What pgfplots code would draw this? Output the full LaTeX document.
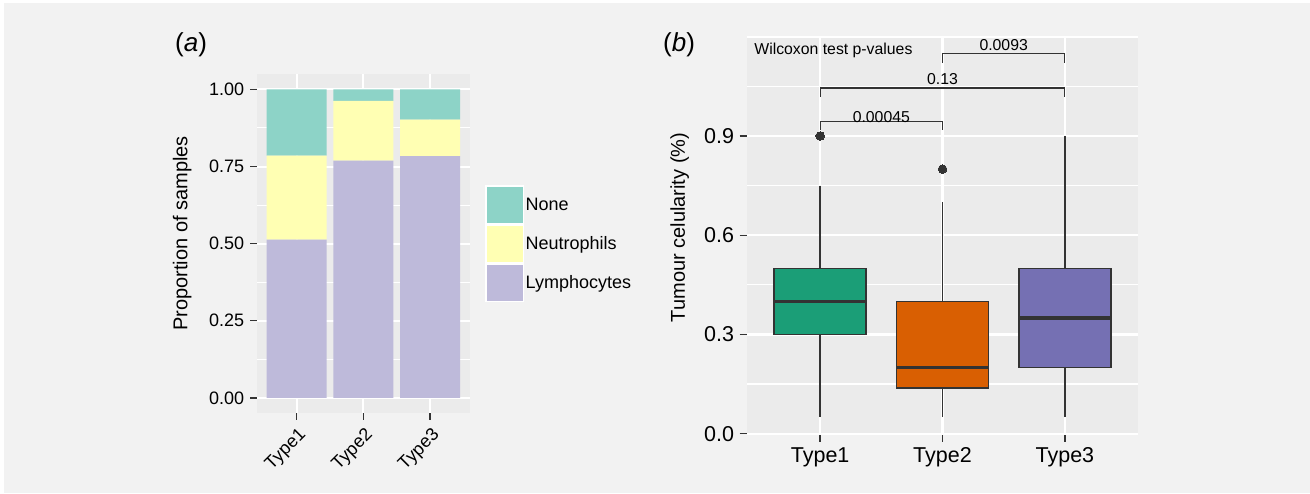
\documentclass[border=0pt]{standalone}
\usepackage{fontspec}
\setmainfont{Liberation Sans}
\usepackage{pgfplots}
\pgfplotsset{compat=1.18}
\usepgfplotslibrary{statistics}

\definecolor{outer}{HTML}{F2F2F2}
\definecolor{panel}{HTML}{EBEBEB}
\definecolor{dk}{HTML}{333333}
\definecolor{cNone}{HTML}{8DD3C7}
\definecolor{cNeut}{HTML}{FFFFB3}
\definecolor{cLymph}{HTML}{BEBADA}
\definecolor{cT1}{HTML}{1B9E77}
\definecolor{cT2}{HTML}{D95F02}
\definecolor{cT3}{HTML}{7570B3}

\newcommand\fa{\fontsize{18}{21}\selectfont}
\newcommand\fya{\fontsize{20}{24}\selectfont}
\newcommand\fb{\fontsize{21.5}{26}\selectfont}
\newcommand\fyb{\fontsize{20}{24}\selectfont}
\newcommand\fc{\fontsize{15.8}{19}\selectfont}
\newcommand\fp{\fontsize{26}{30}\selectfont}

\pgfplotsset{
  gg/.style={
    scale only axis,
    axis background/.style={fill=panel},
    axis line style={draw=none},
    tick pos=left, tick align=outside,
    every tick/.style={draw=dk, line width=1.3pt},
    minor tick length=0pt,
    grid=both,
    /pgf/number format/assume math mode=true,
    tick label style={text=black, inner sep=0pt},
    xmin=0.4, xmax=3.6, xtick={1,2,3}, xticklabels={Type1,Type2,Type3},
  },
  lgkey/.style={legend image code/.code={
      \fill[white] (0pt,-19.5pt) rectangle (39pt,19.5pt);
      \fill[##1,draw=none] (1.5pt,-18pt) rectangle (37.5pt,18pt);}},
}

\begin{document}
\begin{tikzpicture}[x=1pt,y=1pt]
\fill[white] (0,0) rectangle (1310,493);
\fill[outer] (4,0) rectangle (1310,490);

% (a) proportions
\begin{axis}[gg,
  at={(256.7pt,79.7pt)}, anchor=south west,
  width=213.3pt, height=339.3pt,
  ymin=-0.05, ymax=1.05,
  ytick={0,0.25,0.5,0.75,1}, minor ytick={0.125,0.375,0.625,0.875},
  yticklabel style={xshift=-6pt, /pgf/number format/.cd, fixed, fixed zerofill, precision=2},
  major tick length=6.3pt,
  major grid style={white, line width=2pt}, minor grid style={white, line width=1pt},
  tick label style={font=\fa},
  xticklabel style={xshift=1pt, yshift=-7pt, rotate=45, anchor=north east},
  ylabel={Proportion of samples},
  ylabel style={at={(rel axis cs:-0.325,0.53)}, anchor=base, font=\fya},
  ybar stacked, bar width=0.9,
  reverse legend,
  legend style={at={(1.0712,0.6723)}, anchor=north west, draw=none, fill=none,
    inner sep=0pt, outer sep=0pt, column sep=1.5pt, row sep=0pt,
    nodes={inner sep=0pt, font=\fa}},
  legend cell align=left,
]
\addplot[fill=cLymph, draw=none, lgkey] coordinates {(1,0.513) (2,0.769) (3,0.784)};
\addlegendentry{Lymphocytes}
\addplot[fill=cNeut, draw=none, lgkey] coordinates {(1,0.272) (2,0.194) (3,0.118)};
\addlegendentry{Neutrophils}
\addplot[fill=cNone, draw=none, lgkey] coordinates {(1,0.215) (2,0.037) (3,0.098)};
\addlegendentry{None}
\end{axis}

% (b) boxplots
\begin{axis}[gg,
  at={(746.7pt,58.3pt)}, anchor=south west,
  width=391.6pt, height=398.6pt,
  ymin=-0.003, ymax=1.202,
  ytick={0,0.3,0.6,0.9}, minor ytick={0.15,0.45,0.75,1.05},
  extra y ticks={1.2},
  extra y tick style={major tick length=0pt, yticklabel={}},
  yticklabel style={xshift=-5.5pt, /pgf/number format/.cd, fixed, fixed zerofill, precision=1},
  xticklabel style={yshift=-6pt},
  major tick length=7pt,
  major grid style={white, line width=2.4pt}, minor grid style={white, line width=1.2pt},
  tick label style={font=\fb},
  ylabel={Tumour celularity (\%)},
  ylabel style={at={(rel axis cs:-0.1576,0.52)}, anchor=base, font=\fyb},
  boxplot/draw direction=y, boxplot/box extend=0.75, boxplot/whisker extend=0,
  boxplot/every median/.style={line width=3.3pt},
  clip=false,
]
\addplot[boxplot prepared={draw position=1, lower whisker=0.05, lower quartile=0.3,
    median=0.4, upper quartile=0.5, upper whisker=0.75},
  fill=cT1, draw=dk, line width=1.5pt,
  mark=*, mark size=4.3pt, mark options={fill=dk, draw=dk, line width=0pt}]
  coordinates {(1,0.9)};
\addplot[boxplot prepared={draw position=2, lower whisker=0.05, lower quartile=0.1375,
    median=0.2, upper quartile=0.4, upper whisker=0.7},
  fill=cT2, draw=dk, line width=1.5pt,
  mark=*, mark size=4.3pt, mark options={fill=dk, draw=dk, line width=0pt}]
  coordinates {(2,0.8)};
\addplot[boxplot prepared={draw position=3, lower whisker=0.05, lower quartile=0.2,
    median=0.35, upper quartile=0.5, upper whisker=0.9},
  fill=cT3, draw=dk, line width=1.5pt]
  coordinates {};
% significance brackets
\addplot[dk, line width=1.2pt] coordinates {(1,0.918) (1,0.943) (2,0.943) (2,0.918)};
\addplot[dk, line width=1.2pt] coordinates {(1,1.019) (1,1.045) (3,1.045) (3,1.019)};
\addplot[dk, line width=1.2pt] coordinates {(2,1.121) (2,1.149) (3,1.149) (3,1.121)};
\node[font=\fc, inner sep=0pt] at (axis cs:1.5,0.958) {0.00045};
\node[font=\fc, inner sep=0pt] at (axis cs:2,1.072) {0.13};
\node[font=\fc, inner sep=0pt] at (axis cs:2.5,1.174) {0.0093};
\node[font=\fc, inner sep=0pt, anchor=west] at (axis cs:0.461,1.16) {Wilcoxon test p-values};
\end{axis}

\node[font=\fp, anchor=west, inner sep=0pt] at (175,448) {(\textit{a})};
\node[font=\fp, anchor=west, inner sep=0pt] at (663,448) {(\textit{b})};

\pgfresetboundingbox
\path[use as bounding box] (0,0) rectangle (1310,493);
\end{tikzpicture}
\end{document}
